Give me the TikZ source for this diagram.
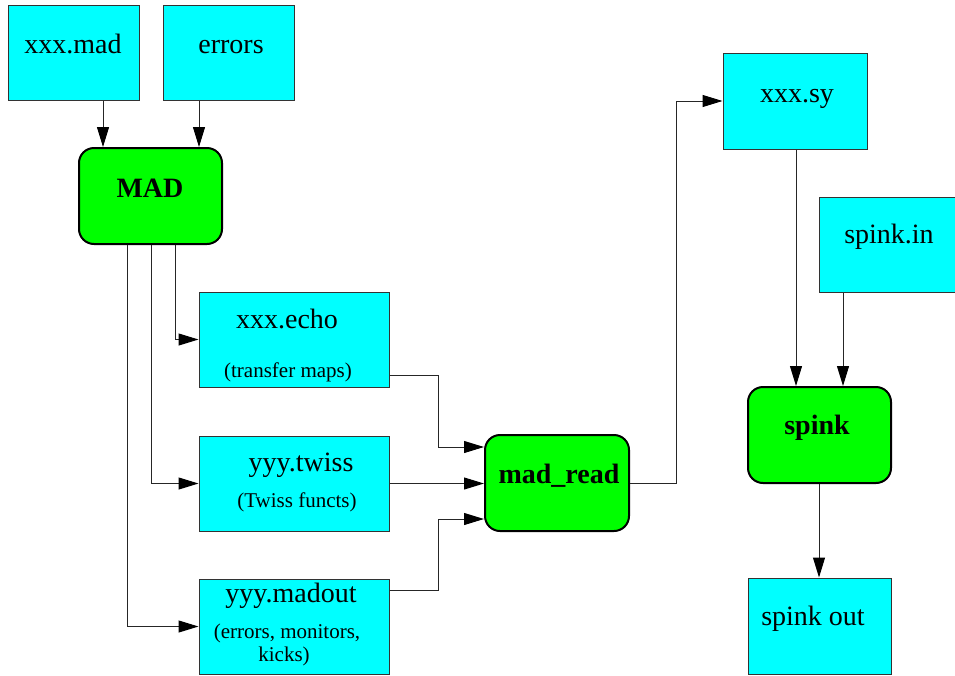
\documentclass[tikz,border=0pt]{standalone}
\usepackage{fontspec}
\setmainfont{Liberation Serif}
\usetikzlibrary{arrows.meta}
\definecolor{aqua}{RGB}{0,255,255}
\definecolor{lime}{RGB}{0,255,0}
\begin{document}
\begin{tikzpicture}[x=1pt,y=-1pt,
  file/.style={draw=black!80,line width=1pt,fill=aqua,rectangle,inner sep=0pt},
  prog/.style={draw=black,line width=2pt,fill=lime,rectangle,rounded corners=15pt,inner sep=0pt},
  big/.style={font=\fontsize{28}{32}\selectfont,anchor=base,inner sep=0pt},
  bigb/.style={font=\fontsize{28}{32}\selectfont\bfseries,anchor=base,inner sep=0pt},
  small/.style={font=\fontsize{21}{24}\selectfont,anchor=base,inner sep=0pt},
  arr/.style={draw=black!85,line width=1pt,-{Triangle[length=20pt,width=12pt,color=black]}}]
\useasboundingbox (0,0) rectangle (955,675);
% boxes
\node[file,minimum width=131pt,minimum height=95pt] (mad) at (73.5,52.5) {};
\node[file,minimum width=131pt,minimum height=95pt] (err) at (228.5,52.5) {};
\node[prog,minimum width=143pt,minimum height=96pt] (MAD) at (150.5,196) {};
\node[file,minimum width=190pt,minimum height=95pt] (echo) at (294,339.5) {};
\node[file,minimum width=190pt,minimum height=95pt] (twiss) at (294,483.5) {};
\node[file,minimum width=190pt,minimum height=95pt] (madout) at (294,626.5) {};
\node[prog,minimum width=144pt,minimum height=96pt] (mr) at (557,483) {};
\node[file,minimum width=144pt,minimum height=96pt] (sy) at (795,101) {};
\node[file,minimum width=140pt,minimum height=95pt] (spin) at (889,244.5) {};
\node[prog,minimum width=143pt,minimum height=96pt] (spink) at (819.5,435) {};
\node[file,minimum width=143pt,minimum height=96pt] (spout) at (819.5,626) {};
% texts
\node[big] (t1) at (73,53) {xxx.mad};
\node[big] (t2) at (231,53) {errors};
\node[bigb] (t3) at (150,197) {MAD};
\node[big] (t4) at (287,328) {xxx.echo};
\node[small] (t5) at (288,377) {(transfer maps)};
\node[big] (t6) at (301,471) {yyy.twiss};
\node[small] (t7) at (297,507) {(Twiss functs)};
\node[big] (t8) at (291,602) {yyy.madout};
\node[small] (t9) at (287,638) {(errors, monitors,};
\node[small] (t10) at (284,661) {kicks)};
\node[bigb] (t11) at (559,483) {mad\_read};
\node[big] (t12) at (797,102) {xxx.sy};
\node[big] (t13) at (889,243) {spink.in};
\node[bigb] (t14) at (817,434) {spink};
\node[big] (t15) at (813,625) {spink out};
% connectors
\draw[arr] (mad.south -| 103,0) -- (MAD.north -| 103,0);
\draw[arr] (err.south -| 199,0) -- (MAD.north -| 199,0);
\draw[arr] (MAD.south -| 175,0) |- (echo.west);
\draw[arr] (MAD.south -| 151,0) |- (twiss.west);
\draw[arr] (MAD.south -| 127,0) |- (madout.west);
\draw[arr] (echo.east |- 0,375) -- (438,375) |- (mr.west |- 0,447);
\draw[arr] (twiss.east) -- (twiss.east -| mr.west);
\draw[arr] (madout.east |- 0,590) -- (438,590) |- (mr.west |- 0,519);
\draw[arr] (mr.east) -| (676,101) -- (sy.west);
\draw[arr] (sy.south -| 796,0) -- (spink.north -| 796,0);
\draw[arr] (spin.south -| 843,0) -- (spink.north -| 843,0);
\draw[arr] (spink.south -| 819,0) -- (spout.north -| 819,0);
\end{tikzpicture}
\end{document}
